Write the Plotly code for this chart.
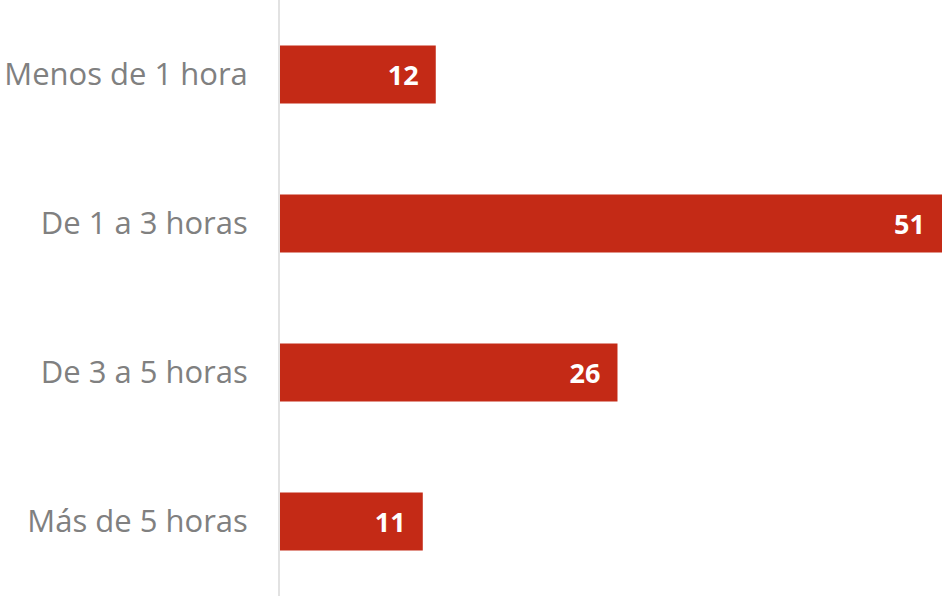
import plotly.graph_objects as go

categories = ["Menos de 1 hora", "De 1 a 3 horas", "De 3 a 5 horas", "Más de 5 horas"]
values = [12, 51, 26, 11]

fig = go.Figure(go.Bar(
    x=values,
    y=categories,
    orientation="h",
    marker=dict(color="#c42a16", line=dict(width=0)),
    text=[f"{v}\u00a0\u00a0" for v in values],
    textposition="inside",
    insidetextanchor="end",
    textfont=dict(family="Open Sans", size=27, color="white", weight="bold"),
    width=0.39,
))

fig.update_layout(
    width=942, height=596,
    margin=dict(l=280, r=0, t=0, b=0),
    paper_bgcolor="white", plot_bgcolor="white",
    showlegend=False,
    font=dict(family="Open Sans"),
)
fig.update_xaxes(range=[0, 51], visible=False, showgrid=False, zeroline=False)
fig.update_yaxes(
    autorange="reversed",
    showline=True, linecolor="#e2e2e2", linewidth=2,
    showgrid=False, zeroline=False,
    ticks="", ticklabelstandoff=24,
    tickfont=dict(family="Open Sans", size=31, color="#808080"),
)

fig.write_html(
    "out.html",
    config={"displayModeBar": False},
    post_script="document.body.style.margin='0';document.body.style.overflow='hidden';",
)
